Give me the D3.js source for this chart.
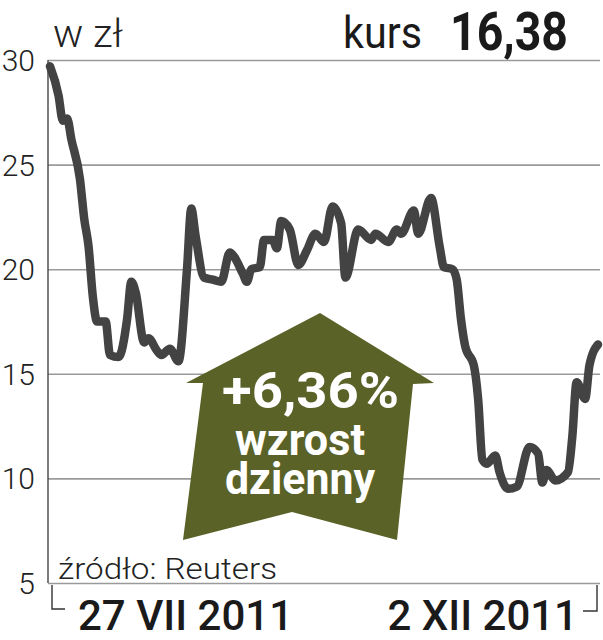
<!DOCTYPE html>
<html>
<head>
<meta charset="utf-8">
<script src="https://cdn.jsdelivr.net/npm/d3@7"></script>
<style>
    body { margin: 0; background: #fff; }
    svg { display: block; }
    text { font-family: Roboto, "Open Sans", sans-serif; }
</style>
</head>
<body>
<div id="chart"></div>
<script>
// dni od 27 VII 2011, kurs w zł
var dni = [0, 2, 3, 4, 5, 7, 8, 9, 10, 11, 13, 14, 16, 18, 19, 20, 22, 23, 25, 26,
           28, 30, 32, 33, 34, 36, 38, 40, 42, 43, 45, 46, 47, 49, 50, 52, 53, 54, 56, 58,
           60, 62, 64, 66, 68, 69, 72, 75, 76, 79, 81, 82, 85, 86, 89, 91, 92, 94, 95, 96,
           97, 99, 100, 101, 102, 104, 105, 107, 109, 112, 114, 115, 116, 118, 121, 122, 123, 125, 126, 128];
var kurs = [29.7, 28.3, 27.1, 27.2, 26.2, 24.3, 22.4, 21.1, 18.7, 17.5, 17.5, 15.9, 15.8, 17.6, 19.4, 18.9, 16.5, 16.7, 16.1, 15.9,
            16.2, 15.6, 20.0, 22.9, 21.6, 19.6, 19.5, 19.4, 20.8, 20.6, 19.8, 19.4, 20.0, 20.1, 21.4, 21.4, 21.0, 22.3, 21.9, 20.2,
            20.9, 21.7, 21.3, 23.0, 22.2, 19.6, 21.9, 21.4, 21.7, 21.3, 21.9, 21.7, 22.8, 21.7, 23.4, 21.1, 20.1, 20.0, 19.5, 17.6,
            16.3, 15.4, 13.8, 10.9, 10.7, 11.1, 10.3, 9.5, 9.6, 11.5, 11.2, 9.8, 10.4, 9.9, 10.3, 12.0, 14.6, 13.8, 15.4, 16.4];
var yTicks = [5, 10, 15, 20, 25, 30];
var xLabels = ["27 VII 2011", "2 XII 2011"];
var start = new Date(2011, 6, 27), end = new Date(2011, 11, 2);

(function() {
    var width = 603, height = 640;
    var plotLeft = 48, plotRight = 600, plotTop = 60, plotBottom = 583;

    var svg = d3.select("#chart").append("svg")
        .attr("width", width)
        .attr("height", height);

    var x = d3.scaleTime().domain([start, end]).range([50, 598]);
    var y = d3.scaleLinear().domain([5, 30]).range([plotBottom, plotTop]);

    var data = dni.map(function(d, i) {
        return { date: d3.timeDay.offset(start, d), value: kurs[i] };
    });

    // siatka + etykiety osi Y
    var yAxis = d3.axisLeft(y)
        .tickValues(yTicks)
        .tickSize(-(plotRight - plotLeft))
        .tickPadding(13);

    var gY = svg.append("g")
        .attr("transform", "translate(" + plotLeft + ",0)")
        .call(yAxis);
    gY.select(".domain").remove();
    gY.selectAll("line").attr("stroke", "#9a9a9a").attr("stroke-width", 1.6);
    gY.selectAll("text")
        .attr("fill", "#222")
        .style("font-size", "30px")
        .style("font-weight", 300)
        .attr("dy", "0.35em");

    svg.append("line")
        .attr("x1", plotLeft).attr("x2", plotLeft)
        .attr("y1", plotTop).attr("y2", plotBottom)
        .attr("stroke", "#444").attr("stroke-width", 1.4);

    // nawiasy osi X
    svg.append("path")
        .attr("d", "M52,585V609H65M583,611H597V585")
        .attr("fill", "none").attr("stroke", "#333").attr("stroke-width", 1.4);

    svg.selectAll(".xlab")
        .data(xLabels)
        .enter().append("text")
        .attr("class", "xlab")
        .attr("x", function(d, i) { return i === 0 ? x(start) + 28 : x(end) - 20; })
        .attr("y", 630)
        .attr("text-anchor", function(d, i) { return i === 0 ? "start" : "end"; })
        .attr("fill", "#1a1a1a")
        .style("font-size", "42px")
        .style("font-weight", 500)
        .text(function(d) { return d; });

    // linia kursu
    var line = d3.line()
        .curve(d3.curveMonotoneX)
        .x(function(d) { return x(d.date); })
        .y(function(d) { return y(d.value); });

    svg.append("path")
        .datum(data)
        .attr("d", line)
        .attr("fill", "none")
        .attr("stroke", "#434343")
        .attr("stroke-width", 8.5)
        .attr("stroke-linejoin", "round")
        .attr("stroke-linecap", "round");

    // strzałka
    var strzalka = [[320, 313], [434, 383], [413, 384], [397, 540], [292, 512], [183, 540], [203, 383], [186, 383]];
    svg.append("polygon")
        .attr("points", strzalka.join(" "))
        .attr("fill", "#5a6228");

    var arrowText = [
        { t: "+6,36%", x: 222, y: 408, size: 50, len: 177 },
        { t: "wzrost", x: 235, y: 455, size: 44, len: 130 },
        { t: "dzienny", x: 225, y: 494, size: 44, len: 150 }
    ];
    svg.selectAll(".atxt")
        .data(arrowText)
        .enter().append("text")
        .attr("class", "atxt")
        .attr("x", function(d) { return d.x; })
        .attr("y", function(d) { return d.y; })
        .attr("fill", "#fff")
        .attr("textLength", function(d) { return d.len; })
        .attr("lengthAdjust", "spacingAndGlyphs")
        .style("font-size", function(d) { return d.size + "px"; })
        .style("font-weight", 700)
        .text(function(d) { return d.t; });

    // nagłówek
    svg.append("text")
        .attr("x", 53).attr("y", 47)
        .attr("textLength", 70).attr("lengthAdjust", "spacingAndGlyphs")
        .attr("fill", "#222")
        .style("font-size", "39px").style("font-weight", 300)
        .text("w zł");

    svg.append("text")
        .attr("x", 343).attr("y", 48)
        .attr("textLength", 79).attr("lengthAdjust", "spacingAndGlyphs")
        .attr("fill", "#1a1a1a")
        .style("font-size", "45px").style("font-weight", 400)
        .text("kurs");

    svg.append("text")
        .attr("x", 450).attr("y", 50)
        .attr("textLength", 118).attr("lengthAdjust", "spacingAndGlyphs")
        .attr("fill", "#1a1a1a")
        .style("font-size", "53px").style("font-weight", 700)
        .text("16,38");

    // źródło
    svg.append("text")
        .attr("x", 58).attr("y", 579)
        .attr("textLength", 219).attr("lengthAdjust", "spacingAndGlyphs")
        .attr("fill", "#222")
        .style("font-size", "29px").style("font-weight", 300)
        .text("źródło: Reuters");
})();
</script>
</body>
</html>
